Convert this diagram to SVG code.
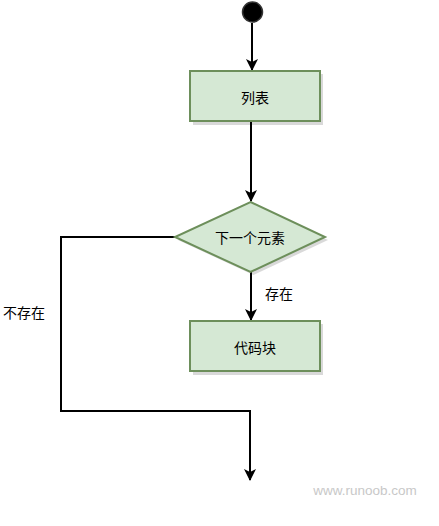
<svg xmlns="http://www.w3.org/2000/svg" width="439" height="526" viewBox="0 0 439 526">
<style>
.node{fill:#d5e8d4;stroke:#6d8f5b;stroke-width:2}
.shadow{fill:#000;opacity:0.15}
.lbl{font-family:"Noto Sans CJK SC","Liberation Sans",sans-serif;font-size:14px;fill:#000;text-anchor:middle;dominant-baseline:central}
.edge{fill:none;stroke:#000;stroke-width:2}
</style>
<defs>
<marker id="arr" viewBox="0 0 12 12" refX="11" refY="6" markerWidth="12" markerHeight="12" markerUnits="userSpaceOnUse" orient="auto">
<path d="M0,0 L12,6 L0,12 L3,6 Z" fill="#000"/>
</marker>
</defs>
<rect width="439" height="526" fill="#fff"/>
<g id="connectors">
<path class="edge" d="M252,23 V70" marker-end="url(#arr)"/>
<path class="edge" d="M251,122 V201" marker-end="url(#arr)"/>
<path class="edge" d="M251,272 V320" marker-end="url(#arr)"/>
<path class="edge" d="M175,237 H61 V411 H250 V480" marker-end="url(#arr)"/>
</g>
<g id="start">
<circle cx="252.5" cy="12" r="10" fill="#000" stroke="#333" stroke-width="1.5"/>
</g>
<g id="list">
<rect class="shadow" x="193" y="74" width="130" height="51"/>
<rect class="node" x="190" y="71" width="130" height="50"/>
<text class="lbl" x="255" y="97">列表</text>
</g>
<g id="next">
<polygon class="shadow" points="253.5,205 328,240 253.5,275 178,240"/>
<polygon class="node" points="250.5,202 325,237 250.5,272 175,237"/>
<text class="lbl" x="250" y="237">下一个元素</text>
</g>
<g id="code">
<rect class="shadow" x="193" y="324" width="130" height="51"/>
<rect class="node" x="190" y="321" width="130" height="50"/>
<text class="lbl" x="255" y="347">代码块</text>
</g>
<g id="labels">
<text class="lbl" x="279" y="293">存在</text>
<text class="lbl" x="24" y="312">不存在</text>
<text x="365" y="490" font-family="'Liberation Sans',sans-serif" font-size="13.5" fill="#c8c8c8" text-anchor="middle" dominant-baseline="central">www.runoob.com</text>
</g>
</svg>
